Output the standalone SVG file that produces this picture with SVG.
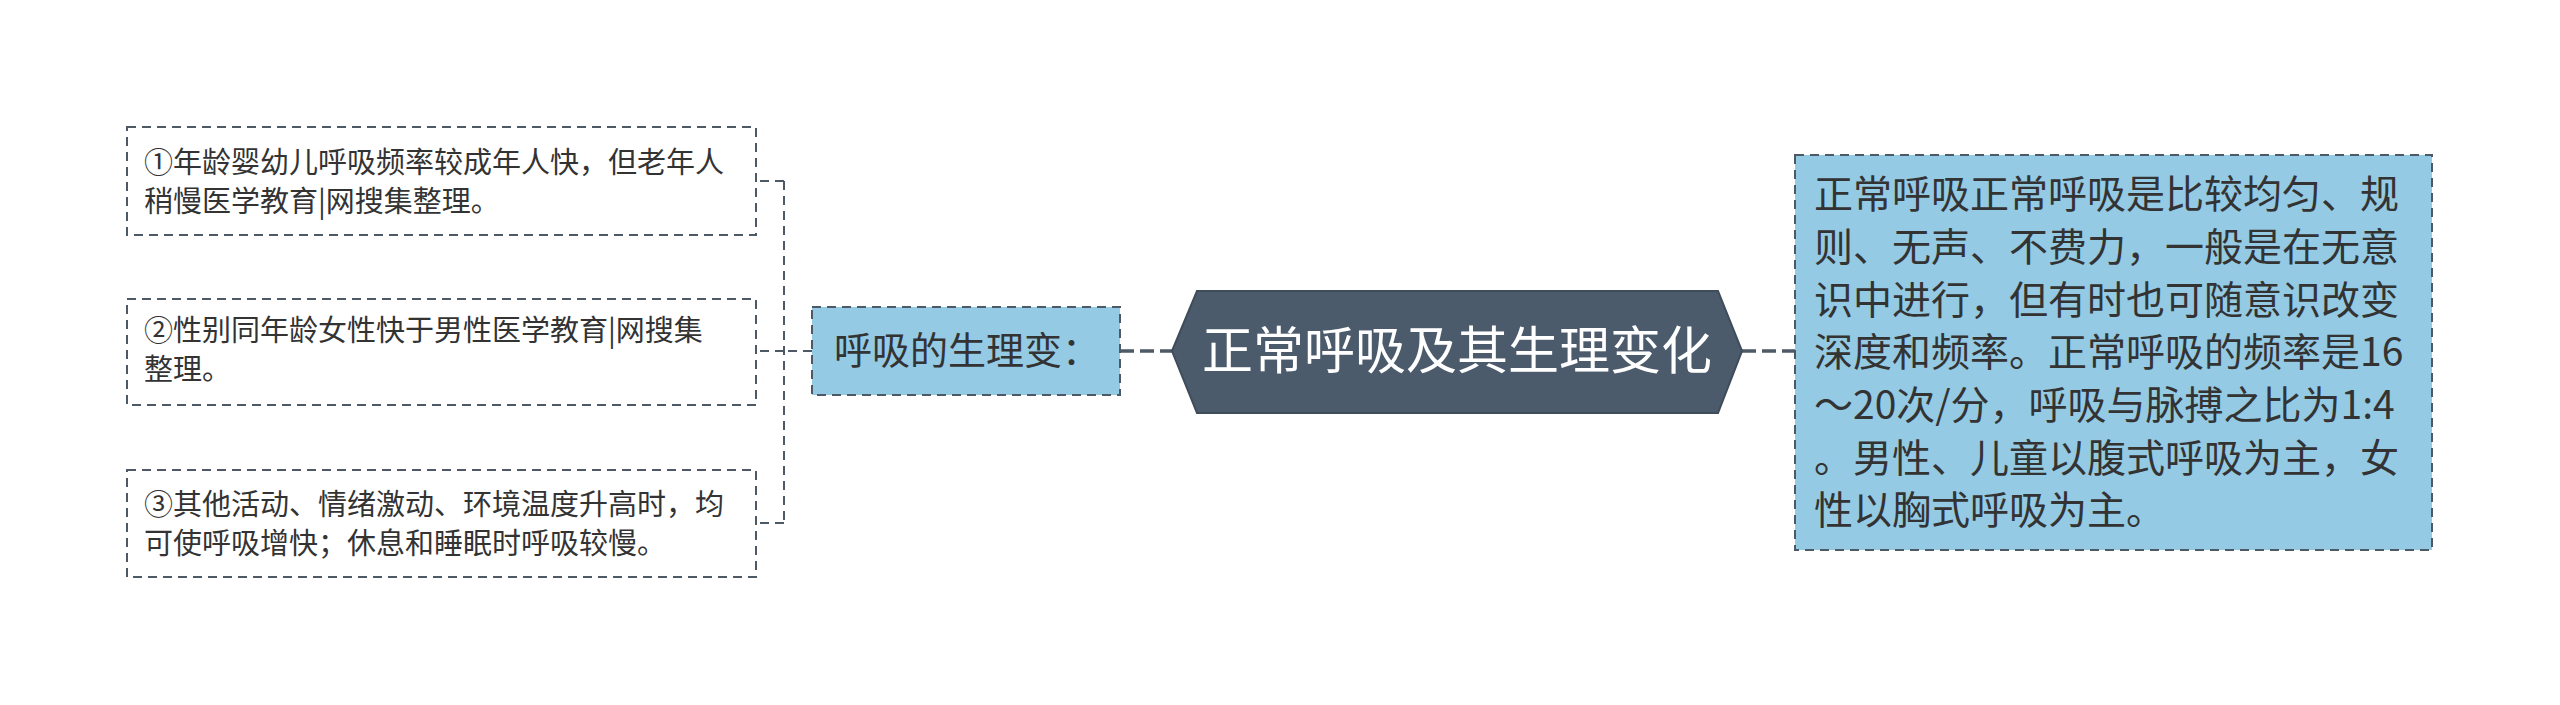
<svg xmlns="http://www.w3.org/2000/svg" width="2560" height="705" viewBox="0 0 2560 705">
<style>
text{font-family:"Noto Sans CJK SC","Noto Sans",sans-serif;fill:#333333}
.leaf{fill:#ffffff;stroke:#4d5a66;stroke-width:2;stroke-dasharray:9 6}
.blue{fill:#94cae3;stroke:#4d5a66;stroke-width:2;stroke-dasharray:9 6}
.t30{font-size:29px}
.t38{font-size:38px}
.t39{font-size:39px}
.conn{fill:none;stroke:#4d5a66;stroke-width:2;stroke-dasharray:9 6}
.conn2{fill:none;stroke:#4d5a66;stroke-width:3.5;stroke-dasharray:14 6}
</style>
<rect width="2560" height="705" fill="#ffffff"/>
<g id="connectors">
<path class="conn" d="M812 351 H784 M784 181 V523 M784 181 H756 M784 351 H756 M784 523 H756"/>
<path class="conn2" d="M1120 351 H1172"/>
<path class="conn2" d="M1742 351 H1795"/>
</g>
<g id="root">
<polygon points="1172,351 1197,291 1718,291 1742,351 1718,413 1197,413" fill="#4b5b6b" stroke="#3f4c59" stroke-width="2"/>
<text x="1457" y="369" font-size="51" text-anchor="middle" style="fill:#ffffff">正常呼吸及其生理变化</text>
</g>
<g id="n-left">
<rect class="blue" x="812" y="307" width="308" height="88"/>
<text class="t38" x="834" y="364">呼吸的生理变：</text>
</g>
<g id="leaf1">
<rect class="leaf" x="127" y="127" width="629" height="108"/>
<text class="t30"><tspan x="144" y="173">①年龄婴幼儿呼吸频率较成年人快，但老年人</tspan><tspan x="144" y="212">稍慢医学教育|网搜集整理。</tspan></text>
</g>
<g id="leaf2">
<rect class="leaf" x="127" y="299" width="629" height="106"/>
<text class="t30"><tspan x="144" y="341">②性别同年龄女性快于男性医学教育|网搜集</tspan><tspan x="144" y="380">整理。</tspan></text>
</g>
<g id="leaf3">
<rect class="leaf" x="127" y="470" width="629" height="107"/>
<text class="t30"><tspan x="144" y="515">③其他活动、情绪激动、环境温度升高时，均</tspan><tspan x="144" y="554">可使呼吸增快；休息和睡眠时呼吸较慢。</tspan></text>
</g>
<g id="n-right">
<rect class="blue" x="1795" y="155" width="637" height="395"/>
<text class="t39"><tspan x="1814" y="208">正常呼吸正常呼吸是比较均匀、规</tspan><tspan x="1814" y="261">则、无声、不费力，一般是在无意</tspan><tspan x="1814" y="314">识中进行，但有时也可随意识改变</tspan><tspan x="1814" y="366">深度和频率。正常呼吸的频率是16</tspan><tspan x="1814" y="419">～20次/分，呼吸与脉搏之比为1:4</tspan><tspan x="1814" y="472">。男性、儿童以腹式呼吸为主，女</tspan><tspan x="1814" y="524">性以胸式呼吸为主。</tspan></text>
</g>
</svg>
